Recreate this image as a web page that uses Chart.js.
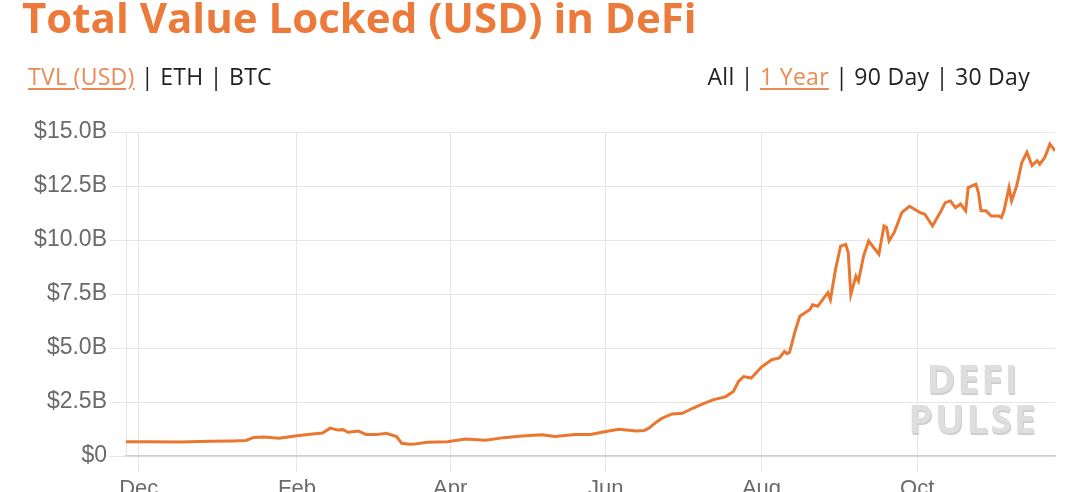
<!DOCTYPE html>
<html>
<head>
<meta charset="utf-8">
<script src="https://cdn.jsdelivr.net/npm/chart.js@4.4.1/dist/chart.umd.min.js"></script>
<style>
  html, body { margin: 0; padding: 0; background: #ffffff; width: 1080px; height: 492px; overflow: hidden; }
  #wrap { position: relative; width: 1080px; height: 492px; }
  #chart { position: absolute; left: 0; top: 0; }
  .title { position: absolute; left: 22px; top: -4px; font: 700 42px/42px "Open Sans", sans-serif; color: #ec7b3b; white-space: nowrap; }
  .links { position: absolute; top: 65px; font: 400 23px/23px "Open Sans", sans-serif; letter-spacing: 0.3px; color: #222; white-space: nowrap; }
  .links .on { color: #ea8a55; text-decoration: underline; text-underline-offset: 3px; }
  .wm { position: absolute; left: 873px; width: 200px; text-align: center; font: 700 39px/40px "Open Sans", sans-serif; color: #dedede; letter-spacing: 2px; text-shadow: 1px 2px 0 #cfcfcf; white-space: nowrap; }
</style>
</head>
<body>
<div id="wrap">
  <canvas id="chart" width="1080" height="492"></canvas>
  <div class="title">Total Value Locked (USD) in DeFi</div>
  <div class="links" style="left:28px;"><span class="on">TVL (USD)</span> | ETH | BTC</div>
  <div class="links" style="right:50px;">All | <span class="on">1 Year</span> | 90 Day | 30 Day</div>
  <div class="wm" style="top:358px;">DEFI<br>PULSE</div>
</div>
<script>
const dates = [
  '2019-11-26','2019-12-05','2019-12-17','2019-12-29','2020-01-07','2020-01-12','2020-01-15','2020-01-19','2020-01-25',
  '2020-02-01','2020-02-07','2020-02-11','2020-02-14','2020-02-17','2020-02-19','2020-02-21','2020-02-25','2020-02-28',
  '2020-03-03','2020-03-07','2020-03-11','2020-03-13','2020-03-16','2020-03-18','2020-03-23','2020-03-31',
  '2020-04-07','2020-04-15','2020-04-22','2020-04-29','2020-05-07','2020-05-12','2020-05-20','2020-05-26',
  '2020-06-01','2020-06-06','2020-06-13','2020-06-16','2020-06-18','2020-06-21','2020-06-23','2020-06-27',
  '2020-07-01','2020-07-05','2020-07-09','2020-07-13','2020-07-18','2020-07-21','2020-07-23','2020-07-25','2020-07-28',
  '2020-08-01','2020-08-05','2020-08-08','2020-08-10','2020-08-11','2020-08-12','2020-08-14','2020-08-16','2020-08-20',
  '2020-08-21','2020-08-23','2020-08-27','2020-08-28','2020-08-30',
  '2020-09-01','2020-09-03','2020-09-04','2020-09-05','2020-09-07','2020-09-08','2020-09-10','2020-09-12','2020-09-14',
  '2020-09-16','2020-09-18','2020-09-19','2020-09-20','2020-09-22','2020-09-25','2020-09-28',
  '2020-10-02','2020-10-04','2020-10-07','2020-10-10','2020-10-12','2020-10-14','2020-10-16','2020-10-18','2020-10-20',
  '2020-10-21','2020-10-24','2020-10-25','2020-10-26','2020-10-28','2020-10-30',
  '2020-11-02','2020-11-03','2020-11-04','2020-11-06','2020-11-07','2020-11-09','2020-11-11','2020-11-13','2020-11-15',
  '2020-11-17','2020-11-18','2020-11-20','2020-11-22','2020-11-24'
];
const tvlBillions = [
  0.66, 0.66, 0.65, 0.68, 0.70, 0.72, 0.86, 0.88, 0.82,
  0.94, 1.02, 1.06, 1.29, 1.20, 1.22, 1.10, 1.16, 1.00,
  0.99, 1.05, 0.90, 0.59, 0.54, 0.55, 0.64, 0.66,
  0.79, 0.73, 0.85, 0.93, 0.98, 0.90, 1.00, 1.00,
  1.13, 1.24, 1.16, 1.18, 1.30, 1.59, 1.75, 1.95,
  1.98, 2.21, 2.41, 2.60, 2.75, 2.99, 3.45, 3.68, 3.61,
  4.12, 4.46, 4.54, 4.84, 4.74, 4.80, 5.71, 6.47, 6.78,
  7.00, 6.93, 7.56, 7.24, 8.64,
  9.72, 9.80, 9.41, 7.48, 8.33, 8.10, 9.26, 9.96, 9.64,
  9.34, 10.65, 10.58, 9.96, 10.35, 11.28, 11.56,
  11.28, 11.19, 10.65, 11.27, 11.73, 11.81, 11.50, 11.66, 11.35,
  12.43, 12.58, 12.20, 11.35, 11.35, 11.11,
  11.11, 11.04, 11.35, 12.43, 11.81, 12.51, 13.59, 14.06, 13.44,
  13.67, 13.51, 13.82, 14.44, 14.13
];
const xTickDates = ['2019-12-01','2020-02-01','2020-04-01','2020-06-01','2020-08-01','2020-10-01'];
const xTickLabels = ['Dec','Feb','Apr','Jun','Aug','Oct'];
const yTickValues = [0, 2.5, 5, 7.5, 10, 12.5, 15];
const yTickLabels = ['$0','$2.5B','$5.0B','$7.5B','$10.0B','$12.5B','$15.0B'];

const DAY = 86400000;
const ORIGIN = Date.UTC(2019, 11, 1);
const toDay = s => (Date.parse(s + 'T00:00:00Z') - ORIGIN) / DAY;
const points = dates.map((d, i) => ({ x: toDay(d), y: tvlBillions[i] }));

const gridColor = '#e6e6e6';

new Chart(document.getElementById('chart'), {
  type: 'line',
  data: {
    datasets: [{
      data: points,
      borderColor: '#ea772f',
      borderWidth: 3,
      pointRadius: 0,
      tension: 0,
      fill: false
    }]
  },
  options: {
    responsive: false,
    animation: false,
    layout: { padding: { left: 0, right: 25, top: 132, bottom: 0 } },
    plugins: { legend: { display: false }, tooltip: { enabled: false }, title: { display: false } },
    scales: {
      x: {
        type: 'linear',
        min: toDay(dates[0]),
        max: toDay(dates[dates.length - 1]),
        afterBuildTicks: axis => { axis.ticks = xTickDates.map(d => ({ value: toDay(d) })); },
        afterFit: axis => { axis.height = 36; },
        ticks: {
          autoSkip: false, maxRotation: 0, minRotation: 0,
          font: { family: '"Liberation Sans", Arial, sans-serif', size: 22 }, color: '#6a6a6a', padding: 4,
          callback: (v, i) => xTickLabels[i]
        },
        grid: { color: gridColor, tickLength: 16, drawTicks: true },
        border: { color: '#cccccc', width: 1.5 }
      },
      y: {
        min: 0, max: 15,
        afterBuildTicks: axis => { axis.ticks = yTickValues.map(v => ({ value: v })); },
        afterFit: axis => { axis.width = 126; },
        ticks: {
          font: { family: '"Liberation Sans", Arial, sans-serif', size: 23 }, color: '#6a6a6a', padding: 3,
          callback: (v, i) => yTickLabels[i]
        },
        grid: { color: gridColor, tickLength: 16, drawTicks: true },
        border: { color: gridColor, width: 1 }
      }
    }
  }
});
</script>
</body>
</html>
